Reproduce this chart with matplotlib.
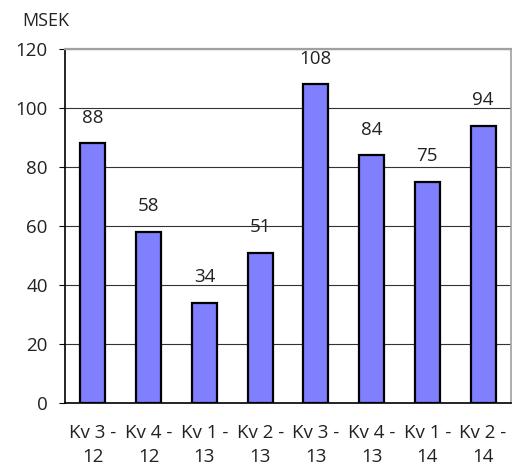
import matplotlib.pyplot as plt
import numpy as np

# Quarterly result, MSEK
quarters = ['Kv 3 -\n12', 'Kv 4 -\n12', 'Kv 1 -\n13', 'Kv 2 -\n13',
            'Kv 3 -\n13', 'Kv 4 -\n13', 'Kv 1 -\n14', 'Kv 2 -\n14']
values = [88, 58, 34, 51, 108, 84, 75, 94]

plt.rcParams['font.family'] = ['Open Sans', 'DejaVu Sans']
plt.rcParams['font.size'] = 13.5

fig = plt.figure(figsize=(5.12, 4.65), dpi=100)
ax = fig.add_axes([0.127, 0.1333, 0.871, 0.7613])

x = np.arange(len(values))
bars = ax.bar(x, values, width=0.45, color='#8080FF', edgecolor='black', linewidth=1.6, zorder=3)

# value above each bar
for xi, v in zip(x, values):
    ax.annotate(str(v), (xi, v), xytext=(0, 12), textcoords='offset points',
                ha='center', va='bottom', color='#222222')

ax.set_xlim(-0.5, len(values) - 0.5)
ax.set_ylim(0, 120)
ax.set_yticks(range(0, 121, 20))
ax.set_xticks(x)
ax.set_xticklabels(quarters, linespacing=1.45)

ax.yaxis.grid(True, color='#333333', linewidth=0.8, zorder=0)
ax.tick_params(axis='y', length=4.5, width=0.8, pad=8, colors='black', labelcolor='#222222')
ax.tick_params(axis='x', length=0, pad=15, labelcolor='#222222')

ax.spines['left'].set_linewidth(1.2)
ax.spines['bottom'].set_linewidth(1.2)
ax.spines['top'].set_color('#a0a0a0')
ax.spines['top'].set_linewidth(1.6)
ax.spines['right'].set_color('#a0a0a0')
ax.spines['right'].set_linewidth(1.2)

fig.text(0.043, 0.955, 'MSEK', ha='left', va='center', fontsize=13, color='#222222')

fig.savefig('out.png', dpi=100)
